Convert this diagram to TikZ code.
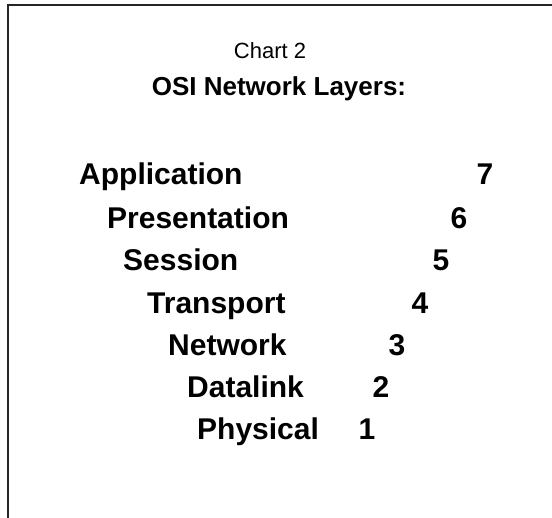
\documentclass[tikz,border=0pt]{standalone}
\usepackage{fontspec}
\setmainfont{Liberation Sans}
\usepackage{tikz}
\usetikzlibrary{positioning}

\tikzset{
  layer/.style={anchor=base west, inner sep=0pt, font=\fontsize{30}{36}\selectfont\bfseries},
  num/.style={anchor=base, inner sep=0pt, font=\fontsize{30}{36}\selectfont\bfseries},
}

\begin{document}
\begin{tikzpicture}[x=1pt, y=-1pt]
      \useasboundingbox (0,0) rectangle (552,518);
      \draw[line width=2pt, black!85] (552,5) -- (8,5) -- (8,518);
      \node[anchor=base, inner sep=0pt, font=\fontsize{22}{26}\selectfont] (chart) at (270,59) {Chart 2};
      \node[anchor=base, inner sep=0pt, font=\fontsize{26}{31}\selectfont\bfseries] (title) at (279,96) {OSI Network Layers:};
      \node[layer] (app) at (79,185) {Application};
      \node[num] (n7) at (485,185) {7};
      \node[layer] (pres) at (107,229) {Presentation};
      \node[num] (n6) at (459,229) {6};
      \node[layer] (sess) at (123,271) {Session};
      \node[num] (n5) at (441,271) {5};
      \node[layer] (trans) at (147,314) {Transport};
      \node[num] (n4) at (420,314) {4};
      \node[layer] (net) at (168,356) {Network};
      \node[num] (n3) at (397,356) {3};
      \node[layer] (link) at (187,398) {Datalink};
      \node[num] (n2) at (381,398) {2};
      \node[layer] (phys) at (197,440) {Physical};
      \node[num] (n1) at (367,440) {1};
    \end{tikzpicture}
\end{document}
